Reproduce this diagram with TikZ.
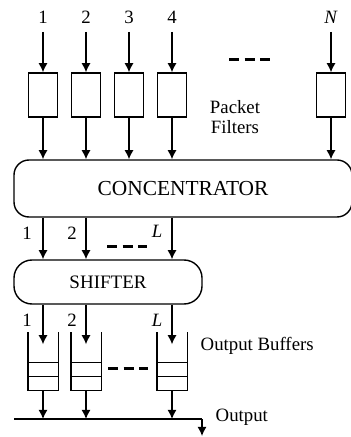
\documentclass[tikz,border=0pt]{standalone}
\usepackage{fontspec}
\setmainfont{Liberation Serif}
\usetikzlibrary{arrows.meta}
\begin{document}
\begin{tikzpicture}[x=0.5pt,y=-0.5pt, line width=0.7pt,
  arr/.style={-{Latex[length=4.6pt,width=4.6pt]}},
  filt/.style={draw, minimum width=14.5pt, minimum height=22pt, inner sep=0pt},
  buf/.style={minimum width=14.5pt, minimum height=28.5pt, inner sep=0pt},
  lab/.style={font=\fontsize{9.4}{10}\selectfont, inner sep=0pt},
  txt/.style={font=\fontsize{9.4}{10}\selectfont, inner sep=0pt},
  dots/.style={line width=1.5pt, dash pattern=on 5pt off 2.75pt}]
\useasboundingbox (0,0) rectangle (351,437);
% inputs and packet filters
\foreach \i/\x/\t in {1/43/1,2/86/2,3/129/3,4/172/4,N/331/\textit{N}} {
  \node[lab] (l\i) at (\x,17) {\t};
  \coordinate (in\i) at (\x,32);
  \node[filt] (f\i) at (\x,95) {};
}
\node[draw, rounded corners=7.5pt, minimum width=169pt, minimum height=28.5pt, inner sep=0pt,
  font=\fontsize{10.7}{12}\selectfont] (conc) at (183,188.5) {CONCENTRATOR};
\foreach \i in {1,2,3,4,N} {
  \draw[arr] (in\i) -- (f\i.north);
  \draw[arr] (f\i.south) -- (f\i.south |- conc.north);
}
\coordinate (da1) at (229,60); \coordinate (db1) at (270,60);
\draw[dots] (da1) -- (db1);
\node[txt, align=center] (pf) at (235,117) {Packet\\Filters};
% shifter
\node[draw, rounded corners=9pt, minimum width=94pt, minimum height=22pt, inner sep=0pt,
  font=\fontsize{9.5}{11}\selectfont] (sh) at (108,282) {SHIFTER};
\foreach \i in {1,2,4} {
  \draw[arr] (conc.south -| f\i) -- (sh.north -| f\i);
}
\node[lab] (c1) at (27,233) {1};
\node[lab] (c2) at (72,233) {2};
\node[lab] (cL) at (157,231) {\textit{L}};
\coordinate (da2) at (107,247); \coordinate (db2) at (147,247);
\draw[dots] (da2) -- (db2);
% output buffers
\node[buf] (b1) at (43,361.5) {};
\node[buf] (b2) at (86,361.5) {};
\node[buf] (bL) at (172,361.5) {};
\coordinate (oL) at (14,419);
\coordinate (oR) at (202,419);
\coordinate (oEnd) at (202,436);
\foreach \b in {b1,b2,bL} {
  \draw (\b.north west) |- (\b.south east) -- (\b.north east);
  \draw ([yshift=7pt]\b.south west) -- ([yshift=7pt]\b.south east);
  \draw ([yshift=14pt]\b.south west) -- ([yshift=14pt]\b.south east);
  \draw[arr] (sh.south -| \b) -- ([yshift=-6pt]\b.north);
  \draw[arr] (\b.south) -- (\b.south |- oL);
}
\node[lab] (s1) at (27,320) {1};
\node[lab] (s2) at (72,320) {2};
\node[lab] (sL) at (157,320) {\textit{L}};
\coordinate (da3) at (108,368); \coordinate (db3) at (148,368);
\draw[dots] (da3) -- (db3);
\node[txt, anchor=west] (ob) at (200,346) {Output Buffers};
\draw (oL) -- (oR);
\draw[arr] (oR) -- (oEnd);
\node[txt, anchor=west] (out) at (215,417) {Output};
\end{tikzpicture}
\end{document}
